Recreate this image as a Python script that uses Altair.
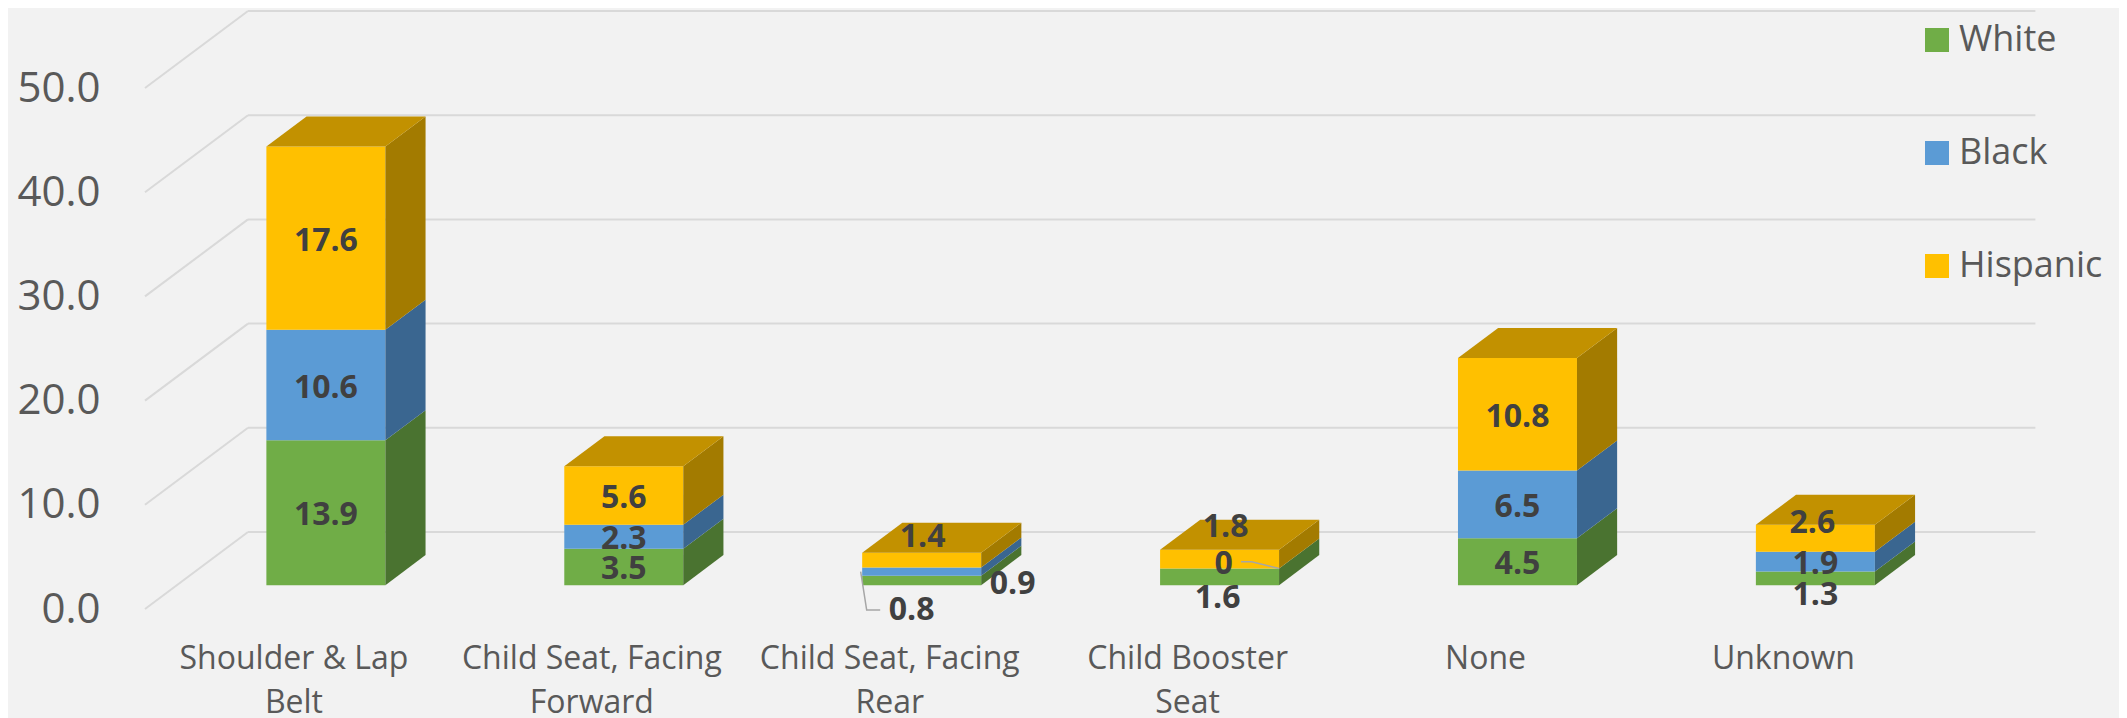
import altair as alt
import pandas as pd

# ---------------- data ----------------
categories = ["Shoulder & Lap Belt", "Child Seat, Facing Forward", "Child Seat, Facing Rear",
              "Child Booster Seat", "None", "Unknown"]
category_lines = ["Shoulder & Lap\nBelt", "Child Seat, Facing\nForward", "Child Seat, Facing\nRear",
                  "Child Booster\nSeat", "None", "Unknown"]
races = ["White", "Black", "Hispanic"]
white = [13.9, 3.5, 0.9, 1.6, 4.5, 1.3]
black = [10.6, 2.3, 0.8, 0.0, 6.5, 1.9]
hispanic = [17.6, 5.6, 1.4, 1.8, 10.8, 2.6]
y_ticks = [0, 10, 20, 30, 40, 50]

# ---------------- style ----------------
front_colors = ["#70AD47", "#5B9BD5", "#FFC000"]
side_colors = ["#4A7330", "#3A6690", "#A37B00"]
top_colors = ["#5A8C39", "#4A7DAC", "#C29100"]
grid_color = "#D9D9D9"
text_color = "#595959"
label_color = "#404040"
FONT = "Open Sans"

PX_X = 297.9          # pixels per category step
PX_Y = 10.42          # pixels per value unit
WIDTH = 1890
HEIGHT = 601
DEPTH_DX = 103 / PX_X  # floor depth offset (category units)
DEPTH_DY = 77 / PX_Y   # floor depth offset (value units)
BAR_HALF = 59.5 / PX_X
BAR_D0, BAR_D1 = 0.31, 0.70
X_MIN = -0.5
X_MAX = X_MIN + WIDTH / PX_X
Y_MAX = HEIGHT / PX_Y
LABEL_DY = 2.5         # general downward shift of data labels (px)

# pixel nudges of individual data labels (category index, race) -> (dx, dy)
label_nudge = {
    (5, "White"): (0, 14),
    (5, "Hispanic"): (-3, -17.5),
    (2, "Hispanic"): (1, -26),
    (2, "Black"): (-10, 36),
    (2, "White"): (91, 1),
    (3, "Hispanic"): (6, -35),
    (3, "Black"): (4, -7),
    (3, "White"): (-2, 19),
}

series = [white, black, hispanic]

fronts, sides, tops, labels, leaders = [], [], [], [], []
sdx = (BAR_D1 - BAR_D0) * DEPTH_DX
sdy = (BAR_D1 - BAR_D0) * DEPTH_DY
for i, cat in enumerate(categories):
    base = 0.0
    x0 = i - BAR_HALF + BAR_D0 * DEPTH_DX
    x1 = i + BAR_HALF + BAR_D0 * DEPTH_DX
    for r, race in enumerate(races):
        v = series[r][i]
        yb = base + BAR_D0 * DEPTH_DY
        yt = base + v + BAR_D0 * DEPTH_DY
        fronts.append(dict(race=race, x=x0, x2=x1, y=yb, y2=yt))
        face = f"s{i}{r}"
        sides.append(dict(face=face, x=x1, y=yb, y2=yt, c=side_colors[r]))
        sides.append(dict(face=face, x=x1 + sdx, y=yb + sdy, y2=yt + sdy, c=side_colors[r]))
        if r == len(races) - 1:
            tops.append(dict(face=f"t{i}", y=yt, x=x0, x2=x1, c=top_colors[r]))
            tops.append(dict(face=f"t{i}", y=yt + sdy, x=x0 + sdx, x2=x1 + sdx, c=top_colors[r]))
        ndx, ndy = label_nudge.get((i, race), (0, 0))
        lx = (x0 + x1) / 2 + ndx / PX_X
        ly = (yb + yt) / 2 - (ndy + LABEL_DY) / PX_Y
        labels.append(dict(x=lx, y=ly, t=f"{v:g}"))
        if (i, race) == (2, "Black"):
            pts = [(x0 - 1.5 / PX_X, (yb + yt) / 2), (x0 + 4.5 / PX_X, ly), (lx - 31.5 / PX_X, ly)]
            for k, (px, py) in enumerate(pts):
                leaders.append(dict(lid="a", o=k, x=px, y=py))
        if (i, race) == (3, "Black"):
            pts = [(lx + 17.5 / PX_X, ly + 2.3 / PX_Y), (lx + 28 / PX_X, ly + 2.3 / PX_Y), (x1, yb)]
            for k, (px, py) in enumerate(pts):
                leaders.append(dict(lid="b", o=k, x=px, y=py))
        base += v

back_grid = pd.DataFrame([dict(x=X_MIN + DEPTH_DX, x2=X_MIN + len(categories) + DEPTH_DX,
                               y=v + DEPTH_DY) for v in y_ticks])
wall_grid = pd.DataFrame([dict(x=X_MIN, y=v, x2=X_MIN + DEPTH_DX, y2=v + DEPTH_DY) for v in y_ticks])
xlab = pd.DataFrame(dict(x=list(range(len(categories))), t=category_lines))

xs = alt.Scale(domain=[X_MIN, X_MAX], nice=False, zero=False)
ys = alt.Scale(domain=[0, Y_MAX], nice=False, zero=False)

y_axis = alt.Axis(values=y_ticks, format=".1f", title=None, ticks=False, domain=False, grid=False,
                  labelFont=FONT, labelFontSize=42, labelColor=text_color, labelPadding=45)

X = lambda f="x": alt.X(f"{f}:Q", scale=xs, axis=None)
Yn = lambda f="y": alt.Y(f"{f}:Q", scale=ys, axis=y_axis)

wall = alt.Chart(wall_grid).mark_rule(color=grid_color, strokeWidth=2).encode(
    x=X(), y=Yn(), x2="x2:Q", y2="y2:Q")
back = alt.Chart(back_grid).mark_rule(color=grid_color, strokeWidth=2).encode(
    x=X(), x2="x2:Q", y=Yn())

front = alt.Chart(pd.DataFrame(fronts)).mark_rect(strokeWidth=0).encode(
    x=X(), x2="x2:Q", y=Yn(), y2="y2:Q",
    color=alt.Color("race:N", scale=alt.Scale(domain=races, range=front_colors),
                    legend=alt.Legend(orient="none", legendX=1774, legendY=14, title=None,
                                      symbolType="square", symbolSize=576, symbolStrokeWidth=0,
                                      labelFont=FONT, labelFontSize=36, labelColor=text_color,
                                      rowPadding=77, labelOffset=4)))

side = alt.Chart(pd.DataFrame(sides)).mark_area(orient="vertical", strokeWidth=0).encode(
    x=X(), y=Yn(), y2="y2:Q", detail="face:N", fill=alt.Fill("c:N", scale=None))

top = alt.Chart(pd.DataFrame(tops)).mark_area(orient="horizontal", strokeWidth=0).encode(
    y=Yn(), x=X(), x2="x2:Q", detail="face:N", fill=alt.Fill("c:N", scale=None))

lead = alt.Chart(pd.DataFrame(leaders)).mark_line(color="#A6A6A6", strokeWidth=1.5).encode(
    x=X(), y=Yn(), detail="lid:N", order="o:Q")

txt = alt.Chart(pd.DataFrame(labels)).mark_text(font=FONT, fontWeight="bold", fontSize=32,
                                                 color=label_color, align="center", baseline="middle").encode(
    x=X(), y=Yn(), text="t:N")

xl = alt.Chart(xlab).mark_text(font=FONT, fontSize=32, color=text_color, align="center",
                               baseline="alphabetic", lineBreak="\n", lineHeight=44).encode(
    x=X(), y=alt.value(661), text="t:N")

chart = alt.layer(wall, back, front, side, top, lead, txt, xl).properties(
    width=WIDTH, height=HEIGHT,
    autosize=alt.AutoSizeParams(type="none"),
    padding={"left": 137, "top": 0, "right": 84, "bottom": 110},
    background="#F2F2F2",
).configure_view(stroke=None)

chart.save("out.html", embed_options={"renderer": "svg", "actions": False})
